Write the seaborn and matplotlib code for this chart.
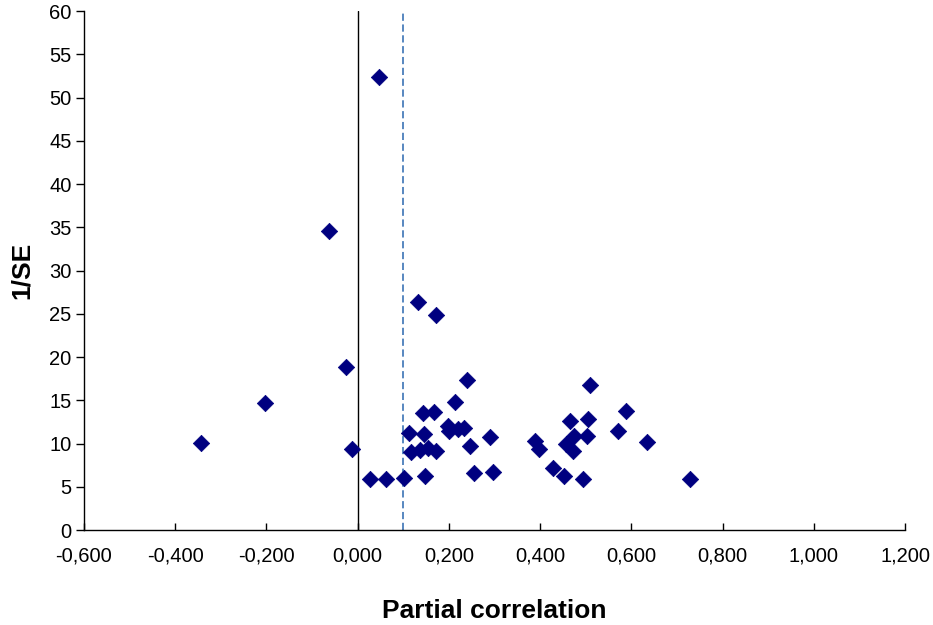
import matplotlib
matplotlib.use("Agg")
import matplotlib.pyplot as plt
import matplotlib.ticker as mticker
import seaborn as sns
import pandas as pd

sns.set_style("white")
plt.rcParams['font.family'] = ['Liberation Sans', 'DejaVu Sans']

partial_corr = [-0.344, -0.203, -0.063, -0.026, -0.013, 0.047, 0.028, 0.062, 0.101, 0.148,
                0.112, 0.146, 0.116, 0.137, 0.155, 0.172, 0.144, 0.167, 0.213, 0.199,
                0.200, 0.221, 0.234, 0.246, 0.290, 0.255, 0.297, 0.239, 0.132, 0.172,
                0.509, 0.389, 0.398, 0.466, 0.504, 0.474, 0.502, 0.456, 0.473, 0.428,
                0.453, 0.495, 0.588, 0.570, 0.634, 0.729]
inv_se = [10.1, 14.7, 34.6, 18.8, 9.4, 52.4, 5.9, 5.9, 6.0, 6.2,
          11.2, 11.1, 9.0, 9.2, 9.5, 9.1, 13.5, 13.7, 14.8, 12.0,
          11.4, 11.7, 11.8, 9.7, 10.7, 6.6, 6.7, 17.4, 26.4, 24.9,
          16.8, 10.3, 9.4, 12.6, 12.8, 10.9, 10.9, 9.9, 9.1, 7.2,
          6.3, 5.9, 13.8, 11.4, 10.2, 5.9]
zero_line = 0.0
mean_line = 0.1

df = pd.DataFrame({'pc': partial_corr, 'inv_se': inv_se})

fig = plt.figure(figsize=(9.33, 6.25), dpi=100)
ax = fig.add_axes([0.09, 0.152, 0.88, 0.830])
sns.scatterplot(data=df, x='pc', y='inv_se', marker='D', s=70, color='#000080',
                edgecolor='#000080', linewidth=0.5, ax=ax, zorder=3)
ax.axvline(zero_line, color='black', lw=1.0, zorder=2)
ax.axvline(mean_line, color='#4a7ebb', lw=1.3, ls=(0, (4, 2)), zorder=2)

ax.set_xlim(-0.6, 1.2)
ax.set_ylim(0, 60)
ax.set_xticks([-0.6 + 0.2 * i for i in range(10)])
ax.set_yticks(range(0, 61, 5))
ax.xaxis.set_major_formatter(mticker.FuncFormatter(lambda v, p: f"{v:.3f}".replace('.', ',').replace('-0,000', '0,000')))
ax.tick_params(axis='x', direction='in', length=5, width=1, colors='black', labelsize=14.5,
               bottom=True, pad=12)
ax.tick_params(axis='y', direction='out', length=6, width=1, colors='black', labelsize=14.5,
               left=True, pad=3)
for s in ['top', 'right']:
    ax.spines[s].set_visible(False)
for s in ['left', 'bottom']:
    ax.spines[s].set_color('black')
    ax.spines[s].set_linewidth(1)

ax.set_xlabel('Partial correlation', fontsize=19, fontweight='bold', labelpad=24, color='black')
ax.set_ylabel('1/SE', fontsize=19, fontweight='bold', labelpad=11, color='black')

fig.savefig('out.png', dpi=100)
